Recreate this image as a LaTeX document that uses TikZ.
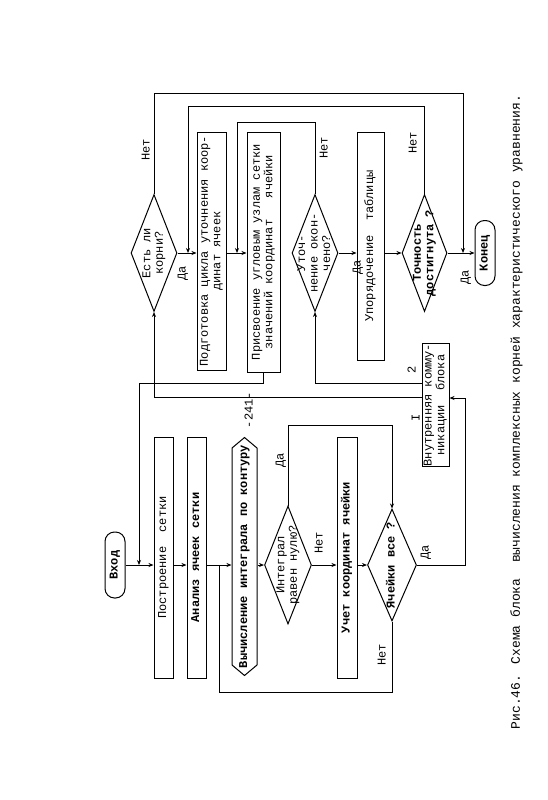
\documentclass[tikz,border=0pt]{standalone}
\usepackage{graphicx}
\usepackage{fontspec}
\setmainfont{Liberation Mono}
\usetikzlibrary{shapes.geometric, shapes.symbols, arrows.meta, positioning}
% rotated text (reads bottom to top)
\newcommand{\vt}[1]{\rotatebox{90}{\begin{tabular}{@{}c@{}}#1\end{tabular}}}
% same, but takes no room (for diamonds)
\newcommand{\vz}[1]{\makebox[0pt]{\raisebox{-.5\height}[0pt][0pt]{\vt{#1}}}}
\newcommand{\fsz}{\fontsize{12}{12.5}\selectfont}
\tikzset{
  % block of the scheme
  box/.style={draw, line width=1pt, inner sep=0pt, fill=white, font=\fsz},
  boldbox/.style={box, font=\fsz\bfseries},
  % begin / end
  term/.style={box, rounded corners=9.5pt, font=\fsz\bfseries},
  % decision
  dia/.style={diamond, draw, line width=1pt, inner sep=0pt, font=\fsz},
  % computation block with pointed ends
  hexa/.style={signal, signal to=north and south, signal pointer angle=100,
    draw, line width=1pt, inner sep=0pt, font=\fsz\bfseries},
  % small labels
  lbl/.style={inner sep=0pt, font=\fsz},
  flow/.style={line width=1pt},
  arr/.style={flow, -{Stealth[length=5pt, width=4pt]}},
}
\begin{document}
\begin{tikzpicture}[x=1pt, y=-1pt]
  \fill[white] (0,0) rectangle (547,800);
  \useasboundingbox (0,0) rectangle (547,800);
  \node[lbl] (pg) at (250,410) {\vt{-241-}};

  % lower chain
  \node[term, minimum width=20pt, minimum height=66pt] (vhod) at (115,565) {\vt{Вход}};
  \node[box, minimum width=19pt, minimum height=241pt] (grid) at (163.5,557.5) {\vt{Построение\ \ сетки}};
  \node[boldbox, minimum width=19pt, minimum height=241pt] (anal) at (196.5,557.5) {\vt{Анализ ячеек сетки}};
  \node[hexa, minimum width=25pt, minimum height=217pt] (integ) at (244.5,556.5) {\vz{Вычисление интеграла по контуру}};
  \node[dia, minimum width=47pt, minimum height=118pt] (zero) at (288,565) {\vz{Интеграл\\равен нулю?}};
  \node[boldbox, minimum width=20pt, minimum height=241pt] (uchet) at (347,557.5) {\vt{Учет координат ячейки}};
  \node[dia, minimum width=49pt, minimum height=112pt, font=\fsz\bfseries] (allc) at (392,565) {\vz{Ячейки все ?}};
  \node[box, minimum width=27pt, minimum height=120pt] (komm) at (435.5,405) {\vt{Внутренняя комму-\\никации\ \ блока}};

  % upper chain
  \node[dia, minimum width=46pt, minimum height=117pt] (roots) at (154,253) {\vz{Есть ли\\корни?}};
  \node[box, minimum width=29pt, minimum height=238pt] (prep) at (211.5,251) {\vt{Подготовка цикла уточнения коор-\\динат ячеек}};
  \node[box, minimum width=33pt, minimum height=240pt] (assign) at (263.5,252) {\vt{Присвоение угловым узлам сетки\\значений координат\ \ \ ячейки}};
  \node[dia, minimum width=46pt, minimum height=117pt] (refine) at (315,253) {\vz{Уточ-\\нение окон-\\чено?}};
  \node[box, minimum width=27pt, minimum height=228pt] (order) at (370.5,246) {\vt{Упорядочение\ \ таблицы}};
  \node[dia, minimum width=45pt, minimum height=117pt, font=\fsz\bfseries] (prec) at (424.5,253) {\vz{Точность\\достигнута ?}};
  \node[term, minimum width=20pt, minimum height=65pt] (konec) at (485,253) {\vt{Конец}};

  % junctions
  \coordinate (j1) at (139,565);
  \coordinate (j2) at (219,565);
  \coordinate (j4) at (463,253);
  \coordinate (j5) at (188,253);
  \coordinate (j6) at (237,253);

  % lower connectors
  \draw[arr] (vhod.east) -- (grid.west |- vhod.east);
  \draw[arr] (grid.east |- vhod) -- (anal.west |- vhod);
  \draw[arr] (anal.east |- vhod) -- (integ.west |- vhod);
  \draw[arr] (integ.east |- vhod) -- (zero.west);
  \draw[arr] (zero.east) -- (uchet.west |- zero.east);
  \draw[arr] (uchet.east |- zero) -- (allc.west);
  \draw[arr] (zero.north) -- ++(0,-80) -| (allc.north);
  \draw[flow] (allc.south) -- ++(0,71) -| (j2);
  \draw[arr] (allc.east) -- ++(48,0) |- (komm.east |- 0,398);
  \draw[arr] (assign.south) -- ++(0,11) -| (j1);
  \draw[arr] (komm.west |- 0,397) -| (roots.south);
  \draw[arr] (komm.west |- 0,383) -| (refine.south);

  % upper connectors
  \draw[arr] (roots.east) -- (prep.west |- roots.east);
  \draw[arr] (prep.east |- roots) -- (assign.west |- roots);
  \draw[arr] (refine.east) -- (order.west |- refine);
  \draw[arr] (order.east |- refine) -- (prec.west);
  \draw[arr] (prec.east) -- (konec.west);
  \draw[arr] (roots.north) -- ++(0,-101) -| (j4);
  \draw[arr] (prec.north) -- ++(0,-88) -| (j5);
  \draw[arr] (refine.north) -- ++(0,-72) -| (j6);

  % labels
  \node[lbl] (l1) at (147,150) {\vt{Нет}};
  \node[lbl] (l2) at (183,273) {\vt{Да}};
  \node[lbl] (l3) at (325,148) {\vt{Нет}};
  \node[lbl] (l4) at (358,267) {\vt{Да}};
  \node[lbl] (l5) at (414,143) {\vt{Нет}};
  \node[lbl] (l6) at (466,277) {\vt{Да}};
  \node[lbl] (l7) at (281,460) {\vt{Да}};
  \node[lbl] (l8) at (320,543) {\vt{Нет}};
  \node[lbl] (l9) at (426,552) {\vt{Да}};
  \node[lbl] (l10) at (383,655) {\vt{Нет}};
  \node[lbl] (o1) at (417,418) {\vt{I}};
  \node[lbl] (o2) at (413,370) {\vt{2}};

  \node[lbl, font=\fontsize{13}{13}\selectfont] (cap) at (517,412) {\vt{Рис.46. Схема блока\ \ вычисления комплексных корней характеристического уравнения.}};
\end{tikzpicture}
\end{document}
